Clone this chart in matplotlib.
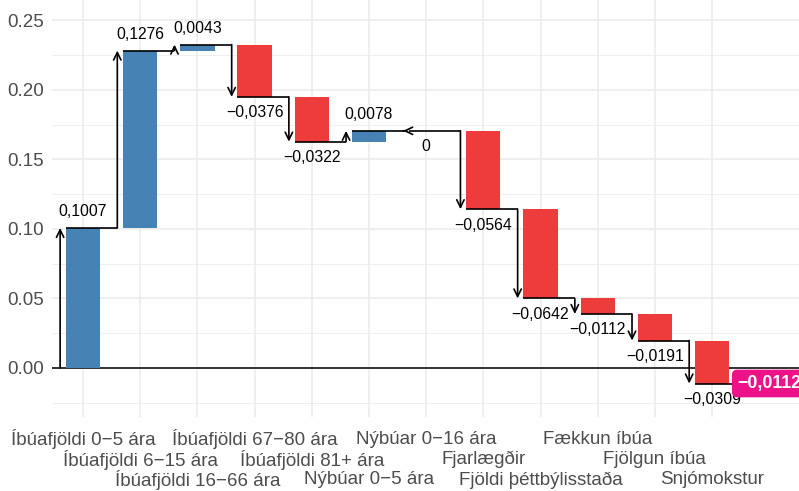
import matplotlib
matplotlib.use('Agg')
import matplotlib.pyplot as plt
import numpy as np

categories = ['Íbúafjöldi 0−5 ára', 'Íbúafjöldi 6−15 ára', 'Íbúafjöldi 16−66 ára',
              'Íbúafjöldi 67−80 ára', 'Íbúafjöldi 81+ ára', 'Nýbúar 0−5 ára',
              'Nýbúar 0−16 ára', 'Fjarlægðir', 'Fjöldi þéttbýlisstaða',
              'Fækkun íbúa', 'Fjölgun íbúa', 'Snjómokstur']
values = [0.1007, 0.1276, 0.0043, -0.0376, -0.0322, 0.0078,
          0.0, -0.0564, -0.0642, -0.0112, -0.0191, -0.0309]
y_ticks = [0.00, 0.05, 0.10, 0.15, 0.20, 0.25]

pos_col = '#4682B4'
neg_col = '#EE3B3B'
total_col = '#EE1289'

plt.rcParams['font.family'] = ['Liberation Sans', 'DejaVu Sans']


def fmt(v):
    if v == 0:
        return '0'
    return f'{v:.4f}'.replace('.', ',').replace('-', '−')


fig = plt.figure(figsize=(7.99, 4.91), dpi=100)
ax = fig.add_axes([52/799, 74/491, 747/799, 417/491])

x = np.arange(1, len(values) + 1)
vals = np.array(values)
ends = np.cumsum(vals)
starts = ends - vals
total = ends[-1]
x_total = len(values) + 1

# grid
for yy in np.arange(-0.025, 0.27, 0.025):
    major = abs(round(yy / 0.05) * 0.05 - yy) < 1e-9
    ax.axhline(yy, color='#EBEBEB', lw=1.1 if major else 0.55, zorder=0)
for xx in x:
    ax.axvline(xx, color='#EBEBEB', lw=1.1, zorder=0)

ax.axhline(0, color='black', lw=1.1, zorder=1)

colors = [pos_col if v > 0 else neg_col for v in vals]
ax.bar(x, np.abs(vals), bottom=np.minimum(starts, ends), width=0.6,
       color=colors, zorder=2)

arrow_kw = dict(arrowstyle='->,head_length=0.45,head_width=0.22', lw=1.2,
                color='black', shrinkA=0, shrinkB=0, mutation_scale=12)

# steps: vertical arrow at x-0.4, then horizontal at end level
for i in range(len(vals)):
    xa = x[i] - 0.4
    if vals[i] != 0:
        ax.annotate('', xy=(xa, ends[i]), xytext=(xa, starts[i]),
                    arrowprops=arrow_kw, zorder=3)
    else:
        ax.annotate('', xy=(xa, ends[i]), xytext=(xa + 0.01, ends[i]),
                    arrowprops=arrow_kw, zorder=3)
    x_next = x[i] + 1 - 0.4
    ax.plot([x[i] - 0.3 if i > 0 else xa + 0.1, x_next], [ends[i], ends[i]],
            color='black', lw=1.2, zorder=3, solid_capstyle='butt')
    off = 11.5 if vals[i] > 0 else -11.5
    ax.annotate(fmt(vals[i]), xy=(x[i], ends[i]), xytext=(0, off),
                textcoords='offset points', ha='center', va='center',
                fontsize=11.3, color='black', zorder=4)

ax.text(x_total, total, fmt(total), ha='center', va='center', fontsize=12.8,
        fontweight='bold', color='white', zorder=5, clip_on=True,
        bbox=dict(boxstyle='round,pad=0.3,rounding_size=0.3', fc=total_col,
                  ec='none'))

ax.set_xlim(0.458, 13.52)
ax.set_ylim(-0.0353, 0.2647)
ax.set_yticks(y_ticks)
ax.set_yticklabels([f'{t:.2f}' for t in y_ticks])
ax.set_xticks(x)
ax.set_xticklabels([])
ax.tick_params(axis='both', length=0, labelsize=13.5, labelcolor='#4D4D4D')
ax.tick_params(axis='y', pad=6)

# category labels staggered over three rows
row_px = [437, 457.5, 478]
trans = ax.get_xaxis_transform()
for i, c in enumerate(categories):
    ypix = row_px[i % 3]
    ax.text(x[i], (417 - ypix) / 417, c, transform=trans, ha='center',
            va='center_baseline', fontsize=13.5, color='#4D4D4D', clip_on=False)

for s in ax.spines.values():
    s.set_visible(False)

fig.savefig('out.png', dpi=100)
